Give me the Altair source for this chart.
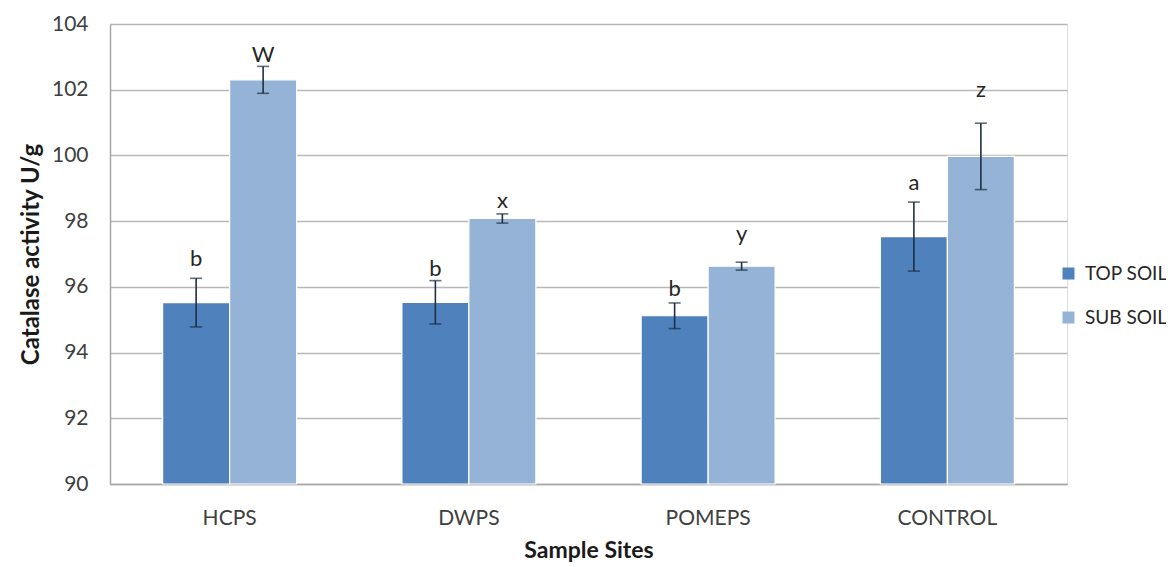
import altair as alt
import pandas as pd

sites = ["HCPS", "DWPS", "POMEPS", "CONTROL"]
soils = ["TOP SOIL", "SUB SOIL"]

top_mean = [95.52, 95.53, 95.12, 97.53]
top_err = [0.74, 0.66, 0.39, 1.05]
top_letter = ["b", "b", "b", "a"]
top_label_y = [96.85, 96.55, 95.95, 99.15]

sub_mean = [102.3, 98.08, 96.63, 99.97]
sub_err = [0.41, 0.14, 0.12, 1.01]
sub_letter = ["W", "x", "y", "z"]
sub_label_y = [103.05, 98.6, 97.6, 102.0]

rows = []
for i, s in enumerate(sites):
    rows.append(dict(site=s, soil=soils[0], mean=top_mean[i], err=top_err[i],
                     letter=top_letter[i], ly=top_label_y[i]))
    rows.append(dict(site=s, soil=soils[1], mean=sub_mean[i], err=sub_err[i],
                     letter=sub_letter[i], ly=sub_label_y[i]))
df = pd.DataFrame(rows)

FONT = "Lato"
x_enc = alt.X("site:N", sort=sites,
              scale=alt.Scale(paddingInner=0.44, paddingOuter=0.22),
              axis=alt.Axis(title="Sample Sites", labelAngle=0, labelFontSize=21,
                            labelColor="#404040", titleFontSize=23, titleFontWeight="bold",
                            titleColor="#1a1a1a", labelPadding=23, titlePadding=11,
                            ticks=False, domainColor="#A6A6A6", domainWidth=1.5,
                            labelFont=FONT, titleFont=FONT))
xo = alt.XOffset("soil:N", sort=soils)
yscale = alt.Scale(domain=[90, 104], zero=False, nice=False)

base = alt.Chart(df)

bars = base.mark_bar(stroke="white", strokeWidth=1.2).encode(
    x=x_enc,
    xOffset=xo,
    y=alt.Y("mean:Q", scale=yscale,
            axis=alt.Axis(title="Catalase activity U/g", values=list(range(90, 105, 2)),
                          labelFontSize=21, labelColor="#404040", titleFontSize=24,
                          titleFontWeight="bold", titleColor="#1a1a1a", ticks=False,
                          labelPadding=22, titlePadding=8, domainColor="#A6A6A6",
                          domainWidth=1.5, gridColor="#B8B8B8", gridWidth=1.5,
                          labelFont=FONT, titleFont=FONT)),
    y2=alt.datum(90),
    color=alt.Color("soil:N", sort=soils,
                    scale=alt.Scale(domain=soils, range=["#4F81BD", "#95B3D7"]),
                    legend=alt.Legend(title=None, orient="none", legendX=949, legendY=240,
                                      symbolType="square", symbolSize=144,
                                      labelFontSize=19, labelColor="#262626",
                                      labelFont=FONT, rowPadding=24, symbolStrokeWidth=0,
                                      labelOffset=7)),
)

err_base = base.transform_calculate(lo="datum.mean - datum.err", hi="datum.mean + datum.err")

rules = err_base.mark_rule(color="#1F2F45", strokeWidth=1.6).encode(
    x=alt.X("site:N", sort=sites), xOffset=xo,
    y=alt.Y("lo:Q", scale=yscale), y2="hi:Q")
cap_lo = err_base.mark_tick(color="#1F2F45", thickness=1.6, size=12).encode(
    x=alt.X("site:N", sort=sites), xOffset=xo, y=alt.Y("lo:Q", scale=yscale))
cap_hi = err_base.mark_tick(color="#1F2F45", thickness=1.6, size=12).encode(
    x=alt.X("site:N", sort=sites), xOffset=xo, y=alt.Y("hi:Q", scale=yscale))

letters = base.mark_text(fontSize=22, color="#262626", font=FONT, baseline="middle").encode(
    x=alt.X("site:N", sort=sites), xOffset=xo,
    y=alt.Y("ly:Q", scale=yscale), text="letter:N")

chart = alt.layer(bars, rules, cap_lo, cap_hi, letters).properties(
    width=957, height=460,
    autosize=alt.AutoSizeParams(type="none"),
    padding={"left": 102, "top": 16, "right": 99, "bottom": 79},
).configure_view(stroke=None).configure(background="white")

chart.save("out.html", embed_options={"renderer": "svg", "actions": False})
